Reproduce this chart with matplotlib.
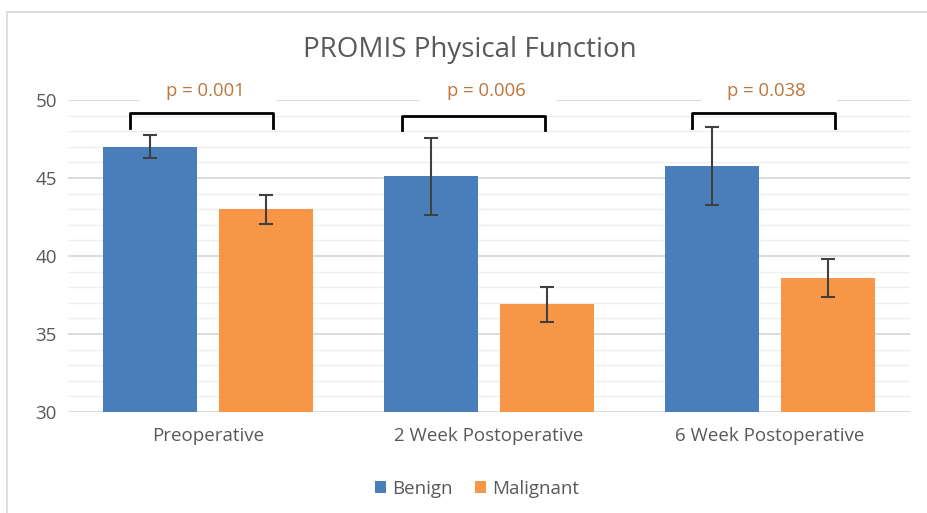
import matplotlib
matplotlib.use("Agg")
import matplotlib.pyplot as plt
from matplotlib.patches import Rectangle
import numpy as np

categories = ["Preoperative", "2 Week Postoperative", "6 Week Postoperative"]
benign = [47.0, 45.1, 45.75]
benign_err = [0.75, 2.45, 2.5]
malignant = [43.0, 36.9, 38.6]
malignant_err = [0.92, 1.1, 1.2]
p_labels = ["p = 0.001", "p = 0.006", "p = 0.038"]

plt.rcParams['font.family'] = ['Open Sans', 'DejaVu Sans']
BLUE = "#4A7EBB"
ORANGE = "#F79646"
TXT = "#595959"

fig = plt.figure(figsize=(9.27, 5.13), dpi=100)
fig.patches.append(Rectangle((7/927, -0.1), 1.0, 1 - 12/513 + 0.1, transform=fig.transFigure,
                             fill=False, edgecolor="#D9D9D9", linewidth=1.2))
ax = fig.add_axes([68/927, 1 - 412/513, (910-68)/927, (412-100)/513])
x = np.arange(len(categories))
w = 0.335
off = 0.207
errkw = dict(ecolor="#404040", elinewidth=1.5, capsize=5, capthick=1.5)
ax.bar(x - off, benign, w, yerr=benign_err, color=BLUE, label="Benign", error_kw=errkw, zorder=3)
ax.bar(x + off, malignant, w, yerr=malignant_err, color=ORANGE, label="Malignant", error_kw=errkw, zorder=3)
ax.set_ylim(30, 50)
ax.set_xlim(-0.5, 2.5)
for v in range(30, 51):
    if v % 5 == 0:
        ax.axhline(v, color="#D9D9D9", lw=1.3, zorder=1)
    else:
        ax.axhline(v, color="#EFEFEF", lw=1.0, zorder=1)
ax.set_yticks([30, 35, 40, 45, 50])
ax.set_xticks(x)
ax.set_xticklabels(categories)
ax.tick_params(axis='both', length=0, labelsize=13.5, labelcolor=TXT)
ax.tick_params(axis='y', pad=8)
ax.tick_params(axis='x', pad=11)
for s in ax.spines.values():
    s.set_visible(False)

bl = [-0.278, -0.31, -0.278]
br = [0.231, 0.2, 0.231]
btop = [49.15, 49.0, 49.15]
for i in range(3):
    xl = x[i] + bl[i]
    xr = x[i] + br[i]
    yt = btop[i]
    yb = yt - 0.95
    ax.plot([xl, xl, xr, xr], [yb, yt, yt, yb], color="black", lw=2, zorder=4,
            solid_joinstyle='round', clip_on=False)
    ax.add_patch(Rectangle((x[i] - 0.245, 49.55), 0.485, 1.8, facecolor="white",
                           edgecolor="none", zorder=4.5, clip_on=False))
    ax.text(x[i] - 0.01, 50.55, p_labels[i], ha="center", va="center", fontsize=13.3,
            color="#BC763C", zorder=5, clip_on=False)

fig.text(470/927, 1 - 50/513, "PROMIS Physical Function", ha="center", va="center",
         fontsize=20, color=TXT)
leg = fig.legend(loc="center", bbox_to_anchor=(477/927, 1 - 489/513), ncol=2, frameon=False,
                 fontsize=13.5, handlelength=0.6, handleheight=0.6, handletextpad=0.3,
                 columnspacing=1.2)
for t in leg.get_texts():
    t.set_color(TXT)
fig.savefig("out.png", dpi=100, facecolor="white")
